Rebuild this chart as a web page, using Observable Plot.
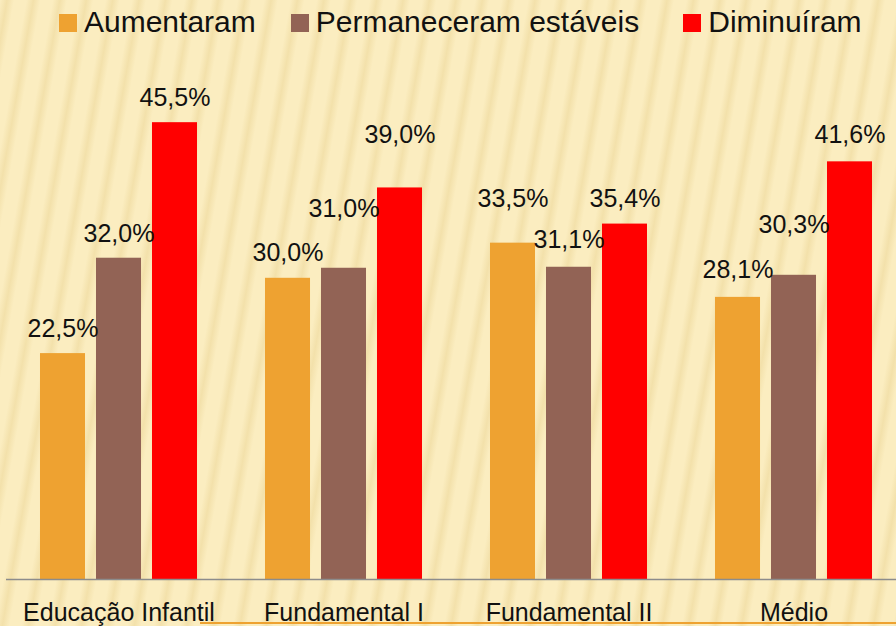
<!DOCTYPE html>
<html>
<head>
<meta charset="utf-8">
<script src="https://cdn.jsdelivr.net/npm/d3@7"></script>
<script src="https://cdn.jsdelivr.net/npm/@observablehq/plot@0.6"></script>
<style>
  html, body { margin: 0; padding: 0; width: 896px; height: 626px; overflow: hidden; }
  body {
    position: relative;
    background-color: #FBEDC0;
    background-image: repeating-linear-gradient(100deg,
      rgba(220,190,110,0) 0px, rgba(220,190,110,0.26) 7px, rgba(220,190,110,0) 14px, rgba(220,190,110,0) 26px);
    font-family: "Liberation Sans", Arial, sans-serif;
    color: #111;
  }
  #legend { height: 44px; display: flex; align-items: center; padding-left: 59px; box-sizing: border-box; font-size: 30px; }
  #legend .item { display: flex; align-items: center; }
  #legend .sw { width: 18px; height: 18px; margin-right: 7px; margin-top: 1px; }
  #chart svg { max-width: none !important; }
  #bottomline { position: absolute; left: 200px; right: 0; top: 622px; height: 1.5px; background: #EEA231; }
</style>
</head>
<body>
<div id="legend"></div>
<div id="chart"></div>
<div id="bottomline"></div>
<script>
const groups = ["Educação Infantil", "Fundamental I", "Fundamental II", "Médio"];
const series = ["Aumentaram", "Permaneceram estáveis", "Diminuíram"];
const aumentaram = [22.5, 30.0, 33.5, 28.1];
const permaneceram = [32.0, 31.0, 31.1, 30.3];
const diminuiram = [45.5, 39.0, 35.4, 41.6];
const colors = ["#EEA231", "#926355", "#FF0000"];

// layout only: how far (px) each value label sits above its bar, per group, per series
const labelLift = [[17, 16, 17], [17, 51, 45], [36, 19, 17], [19, 42, 19]];

const valuesBySeries = [aumentaram, permaneceram, diminuiram];
const data = groups.flatMap((g, i) => series.map((s, j) => ({group: g, series: s, value: valuesBySeries[j][i], gi: i, si: j})));

// legend
const legend = document.getElementById("legend");
const gaps = [0, 35, 44];
series.forEach((s, j) => {
  const it = document.createElement("div");
  it.className = "item";
  it.style.marginLeft = gaps[j] + "px";
  const sw = document.createElement("span");
  sw.className = "sw";
  sw.style.background = colors[j];
  const t = document.createElement("span");
  t.textContent = s;
  it.appendChild(sw); it.appendChild(t);
  legend.appendChild(it);
});

const fmt = v => v.toFixed(1).replace(".", ",") + "%";

const chart = Plot.plot({
  width: 906,
  height: 600,
  marginLeft: 6,
  marginRight: 0,
  marginTop: 33,
  marginBottom: 65,
  style: {background: "transparent", fontFamily: "'Liberation Sans', Arial, sans-serif", color: "#111", overflow: "visible", maxWidth: "none"},
  fx: {domain: groups, padding: 0, round: false, label: null},
  x: {domain: series, paddingInner: 0.196, paddingOuter: 0.607, round: false, axis: null},
  y: {domain: [0, 50], axis: null},
  color: {domain: series, range: colors},
  marks: [
    Plot.barY(data, {fx: "group", x: "series", y: "value", fill: "series"}),
    ...data.map(d => Plot.text([d], {fx: "group", x: "series", y: "value",
      text: r => fmt(r.value),
      lineAnchor: "bottom", dy: -labelLift[d.gi][d.si], fontSize: 25, fill: "#111"})),
    Plot.ruleY([0], {stroke: "#8c8c8c", strokeWidth: 1.5}),
    Plot.axisFx({anchor: "bottom", tickSize: 0, tickPadding: 24, fontSize: 25, label: null, fill: "#111"})
  ]
});
document.getElementById("chart").appendChild(chart);
</script>
</body>
</html>
